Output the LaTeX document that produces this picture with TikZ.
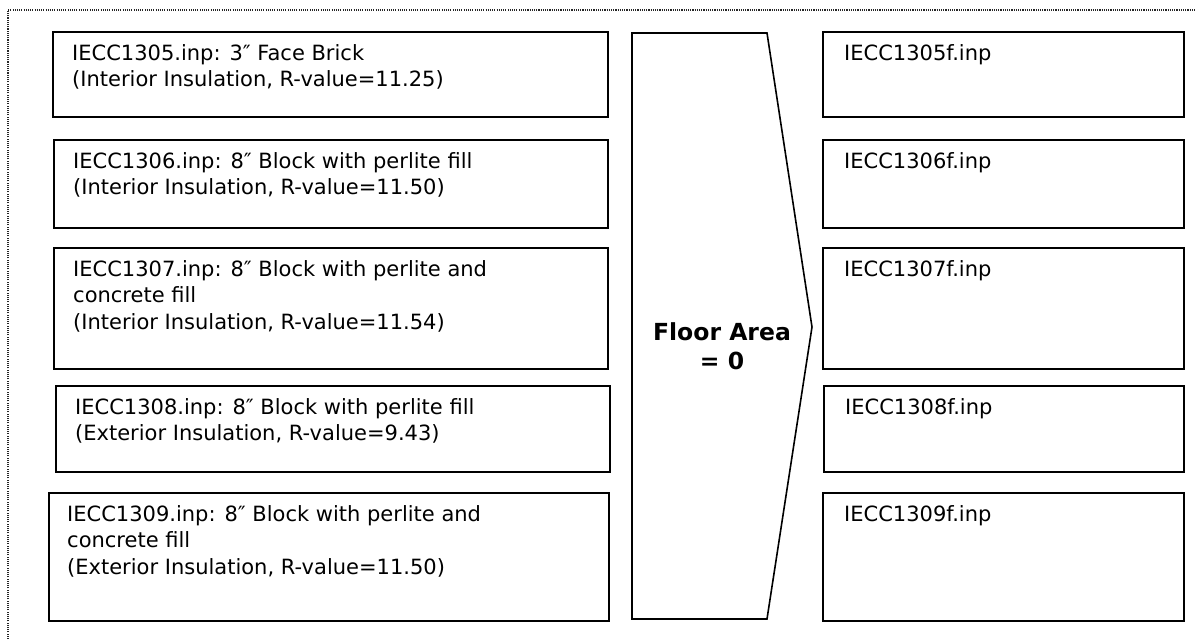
\documentclass[tikz,border=0pt]{standalone}
\usepackage{fontspec}
\setmainfont{DejaVu Sans}
\usetikzlibrary{positioning,calc}

\begin{document}
\begin{tikzpicture}[x=1pt, y=-1pt,
        frame/.style={rectangle, draw, line width=1.6pt, inner sep=0pt, anchor=north west},
        boxtext/.style={anchor=north west, inner sep=0pt, align=left, font=\fontsize{21}{26.5}\selectfont},
        areatext/.style={align=center, inner sep=0pt, font=\fontsize{23.5}{29}\selectfont\bfseries}]

        \useasboundingbox (0,0) rectangle (1195,639);
        \draw[line width=1.1pt, black!85, dash pattern=on 1.1pt off 1.1pt] (8,639) -- (8,10) -- (1195,10);

        % input files
        \node[frame, minimum width=555pt, minimum height=85pt] (in1) at (52,31) {};
        \node[frame, minimum width=554pt, minimum height=88pt] (in2) at (53,139) {};
        \node[frame, minimum width=554pt, minimum height=121pt] (in3) at (53,247) {};
        \node[frame, minimum width=554pt, minimum height=86pt] (in4) at (55,385) {};
        \node[frame, minimum width=560pt, minimum height=128pt] (in5) at (48,492) {};

        \node[boxtext] (in1txt) at ($(in1.north west)+(20,13)$) {IECC1305.inp: 3″ Face Brick\\(Interior Insulation, R-value=11.25)};
        \node[boxtext] (in2txt) at ($(in2.north west)+(20,13)$) {IECC1306.inp: 8″ Block with perlite fill\\(Interior Insulation, R-value=11.50)};
        \node[boxtext] (in3txt) at ($(in3.north west)+(20,13)$) {IECC1307.inp: 8″ Block with perlite and\\concrete fill\\(Interior Insulation, R-value=11.54)};
        \node[boxtext] (in4txt) at ($(in4.north west)+(20,13)$) {IECC1308.inp: 8″ Block with perlite fill\\(Exterior Insulation, R-value=9.43)};
        \node[boxtext] (in5txt) at ($(in5.north west)+(19,13)$) {IECC1309.inp: 8″ Block with perlite and\\concrete fill\\(Exterior Insulation, R-value=11.50)};

        % the step between them
        \coordinate (a1) at (632,33);
        \coordinate (a2) at (767,33);
        \coordinate (tip) at (812,327);
        \coordinate (a3) at (767,619);
        \coordinate (a4) at (632,619);
        \draw[line width=1.6pt, line join=miter] (a1) -- (a2) -- (tip) -- (a3) -- (a4) -- cycle;
        \node[areatext] (area) at (722,346) {Floor Area\\= 0};

        % output files
        \node[frame, minimum width=361pt, minimum height=85pt] (out1) at (822,31) {};
        \node[frame, minimum width=361pt, minimum height=88pt] (out2) at (822,139) {};
        \node[frame, minimum width=361pt, minimum height=121pt] (out3) at (822,247) {};
        \node[frame, minimum width=360pt, minimum height=86pt] (out4) at (823,385) {};
        \node[frame, minimum width=361pt, minimum height=128pt] (out5) at (822,492) {};

        \node[boxtext] (out1txt) at ($(out1.north west)+(22,13)$) {IECC1305f.inp};
        \node[boxtext] (out2txt) at ($(out2.north west)+(22,13)$) {IECC1306f.inp};
        \node[boxtext] (out3txt) at ($(out3.north west)+(22,13)$) {IECC1307f.inp};
        \node[boxtext] (out4txt) at ($(out4.north west)+(22,13)$) {IECC1308f.inp};
        \node[boxtext] (out5txt) at ($(out5.north west)+(22,13)$) {IECC1309f.inp};
\end{tikzpicture}
\end{document}
